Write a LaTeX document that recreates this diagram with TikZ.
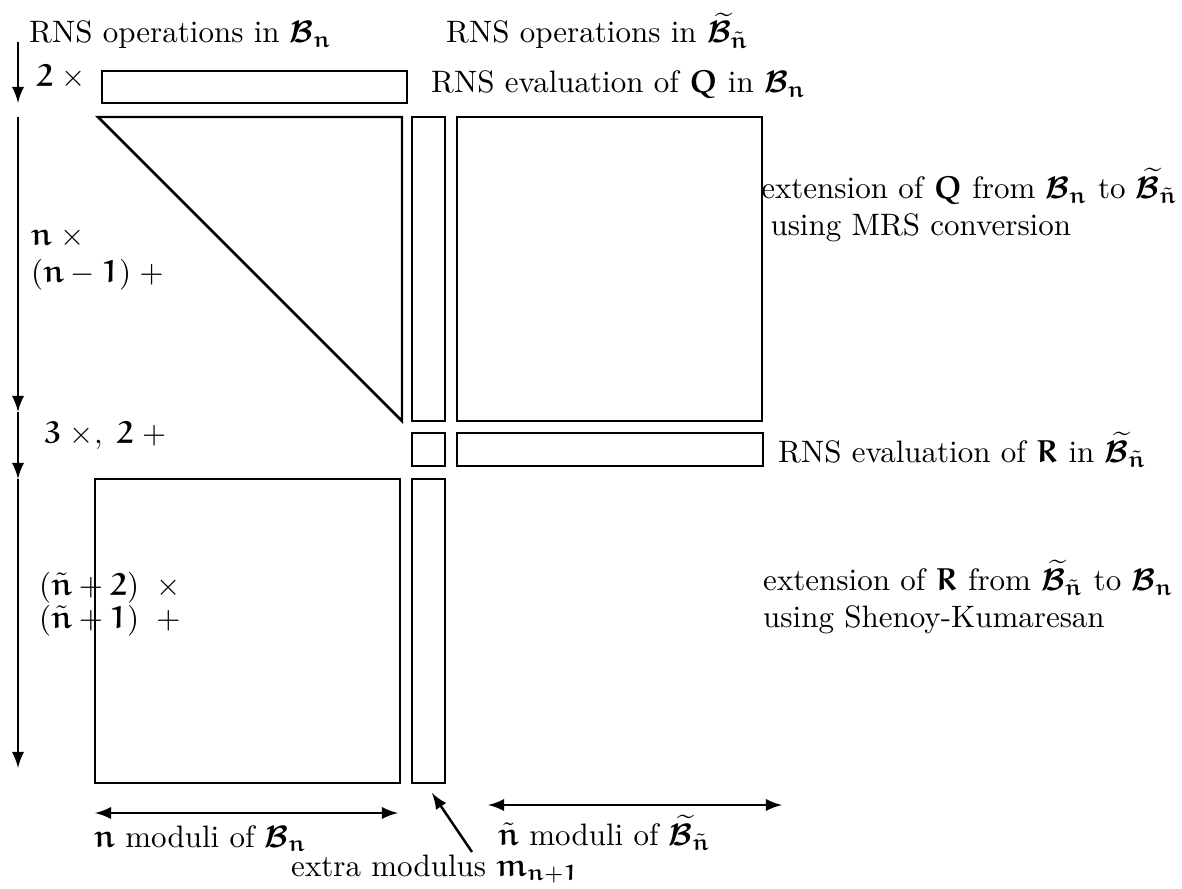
\documentclass[tikz,border=0pt]{standalone}
\usepackage{amsmath,amssymb}
\DeclareMathAlphabet{\mathbe}{U}{eur}{b}{n}
\DeclareMathAlphabet{\mathbcal}{OMS}{cmsy}{b}{n}
\newcommand{\bn}{\mathbe{n}}
\newcommand{\bnt}{\tilde{\mathbe{n}}}
\newcommand{\Bn}{\mathbcal{B}_{\bn}}
\newcommand{\Bnt}{\widetilde{\mathbcal{B}}_{\bnt}}

\begin{document}
\begin{tikzpicture}[x=0.3226pt,y=-0.3226pt,>=latex,line width=0.8pt,
  lbl/.style={inner sep=0pt,anchor=base west},
  blk/.style={inner sep=0pt,anchor=west,align=left}]
  \useasboundingbox (0,0) rectangle (1182,889);
  % blocks of moduli
  \draw (102,71) rectangle (407,103);
  \draw (98,117) -- (402,117) -- (402,421) -- cycle;
  \draw (412,117) rectangle (445,421);
  \draw (457,117) rectangle (762,421);
  \draw (412,433) rectangle (445,466);
  \draw (457,433) rectangle (763,466);
  \draw (95,479) rectangle (400,783);
  \draw (412,479) rectangle (445,783);
  % operation counts
  \coordinate (t0) at (18,42);
  \coordinate (t1) at (18,103);
  \coordinate (t2) at (18,117);
  \coordinate (t3) at (18,412);
  \coordinate (t4) at (18,479);
  \coordinate (t5) at (18,768);
  \draw[->] (t0) -- (t1);
  \draw[->] (t2) -- (t3);
  \draw[->] (t3) -- (t4);
  \draw[->] (t4) -- (t5);
  \node[lbl] (opB) at (28,43) {RNS operations in $\Bn$};
  \node[lbl] (opBt) at (445,43) {RNS operations in $\Bnt$};
  \node[lbl] (c1) at (35,87) {$\mathbe{2}\;\times$};
  \node[blk] (c2) at (30,259) {$\bn\;\times$\\$(\bn-\mathbe{1})\;+$};
  \node[lbl] (c3) at (43,443) {$\mathbe{3}\;\times,\;\mathbe{2}\;+$};
  \node[blk] (c4) at (38,604) {$(\bnt+\mathbe{2})\;\;\times$\\[-1.5pt]$(\bnt+\mathbe{1})\;\;+$};
  % what each block does
  \node[lbl] (evQ) at (430,93) {RNS evaluation of $\mathbe{Q}$ in $\Bn$};
  \node[blk] (exQ) at (760,205) {extension of $\mathbe{Q}$ from $\Bn$ to $\Bnt$\\\hspace*{3pt}using MRS conversion};
  \node[lbl] (evR) at (777,462) {RNS evaluation of $\mathbe{R}$ in $\Bnt$};
  \node[blk] (exR) at (762,597) {extension of $\mathbe{R}$ from $\Bnt$ to $\Bn$\\using Shenoy-Kumaresan};
  % moduli
  \coordinate (l0) at (95,813);
  \coordinate (l1) at (398,813);
  \coordinate (r0) at (488,805);
  \coordinate (r1) at (782,805);
  \draw[<->] (l0) -- (l1);
  \draw[<->] (r0) -- (r1);
  \node[lbl] (modB) at (93,847) {$\bn$ moduli of $\Bn$};
  \node[lbl] (modBt) at (497,845) {$\bnt$ moduli of $\Bnt$};
  \node[lbl] (extra) at (290,876) {extra modulus $\mathbe{m}_{\bn+\mathbe{1}}$};
  \coordinate (e0) at (472,852);
  \coordinate (e1) at (432,793);
  \draw[->] (e0) -- (e1);
\end{tikzpicture}
\end{document}
